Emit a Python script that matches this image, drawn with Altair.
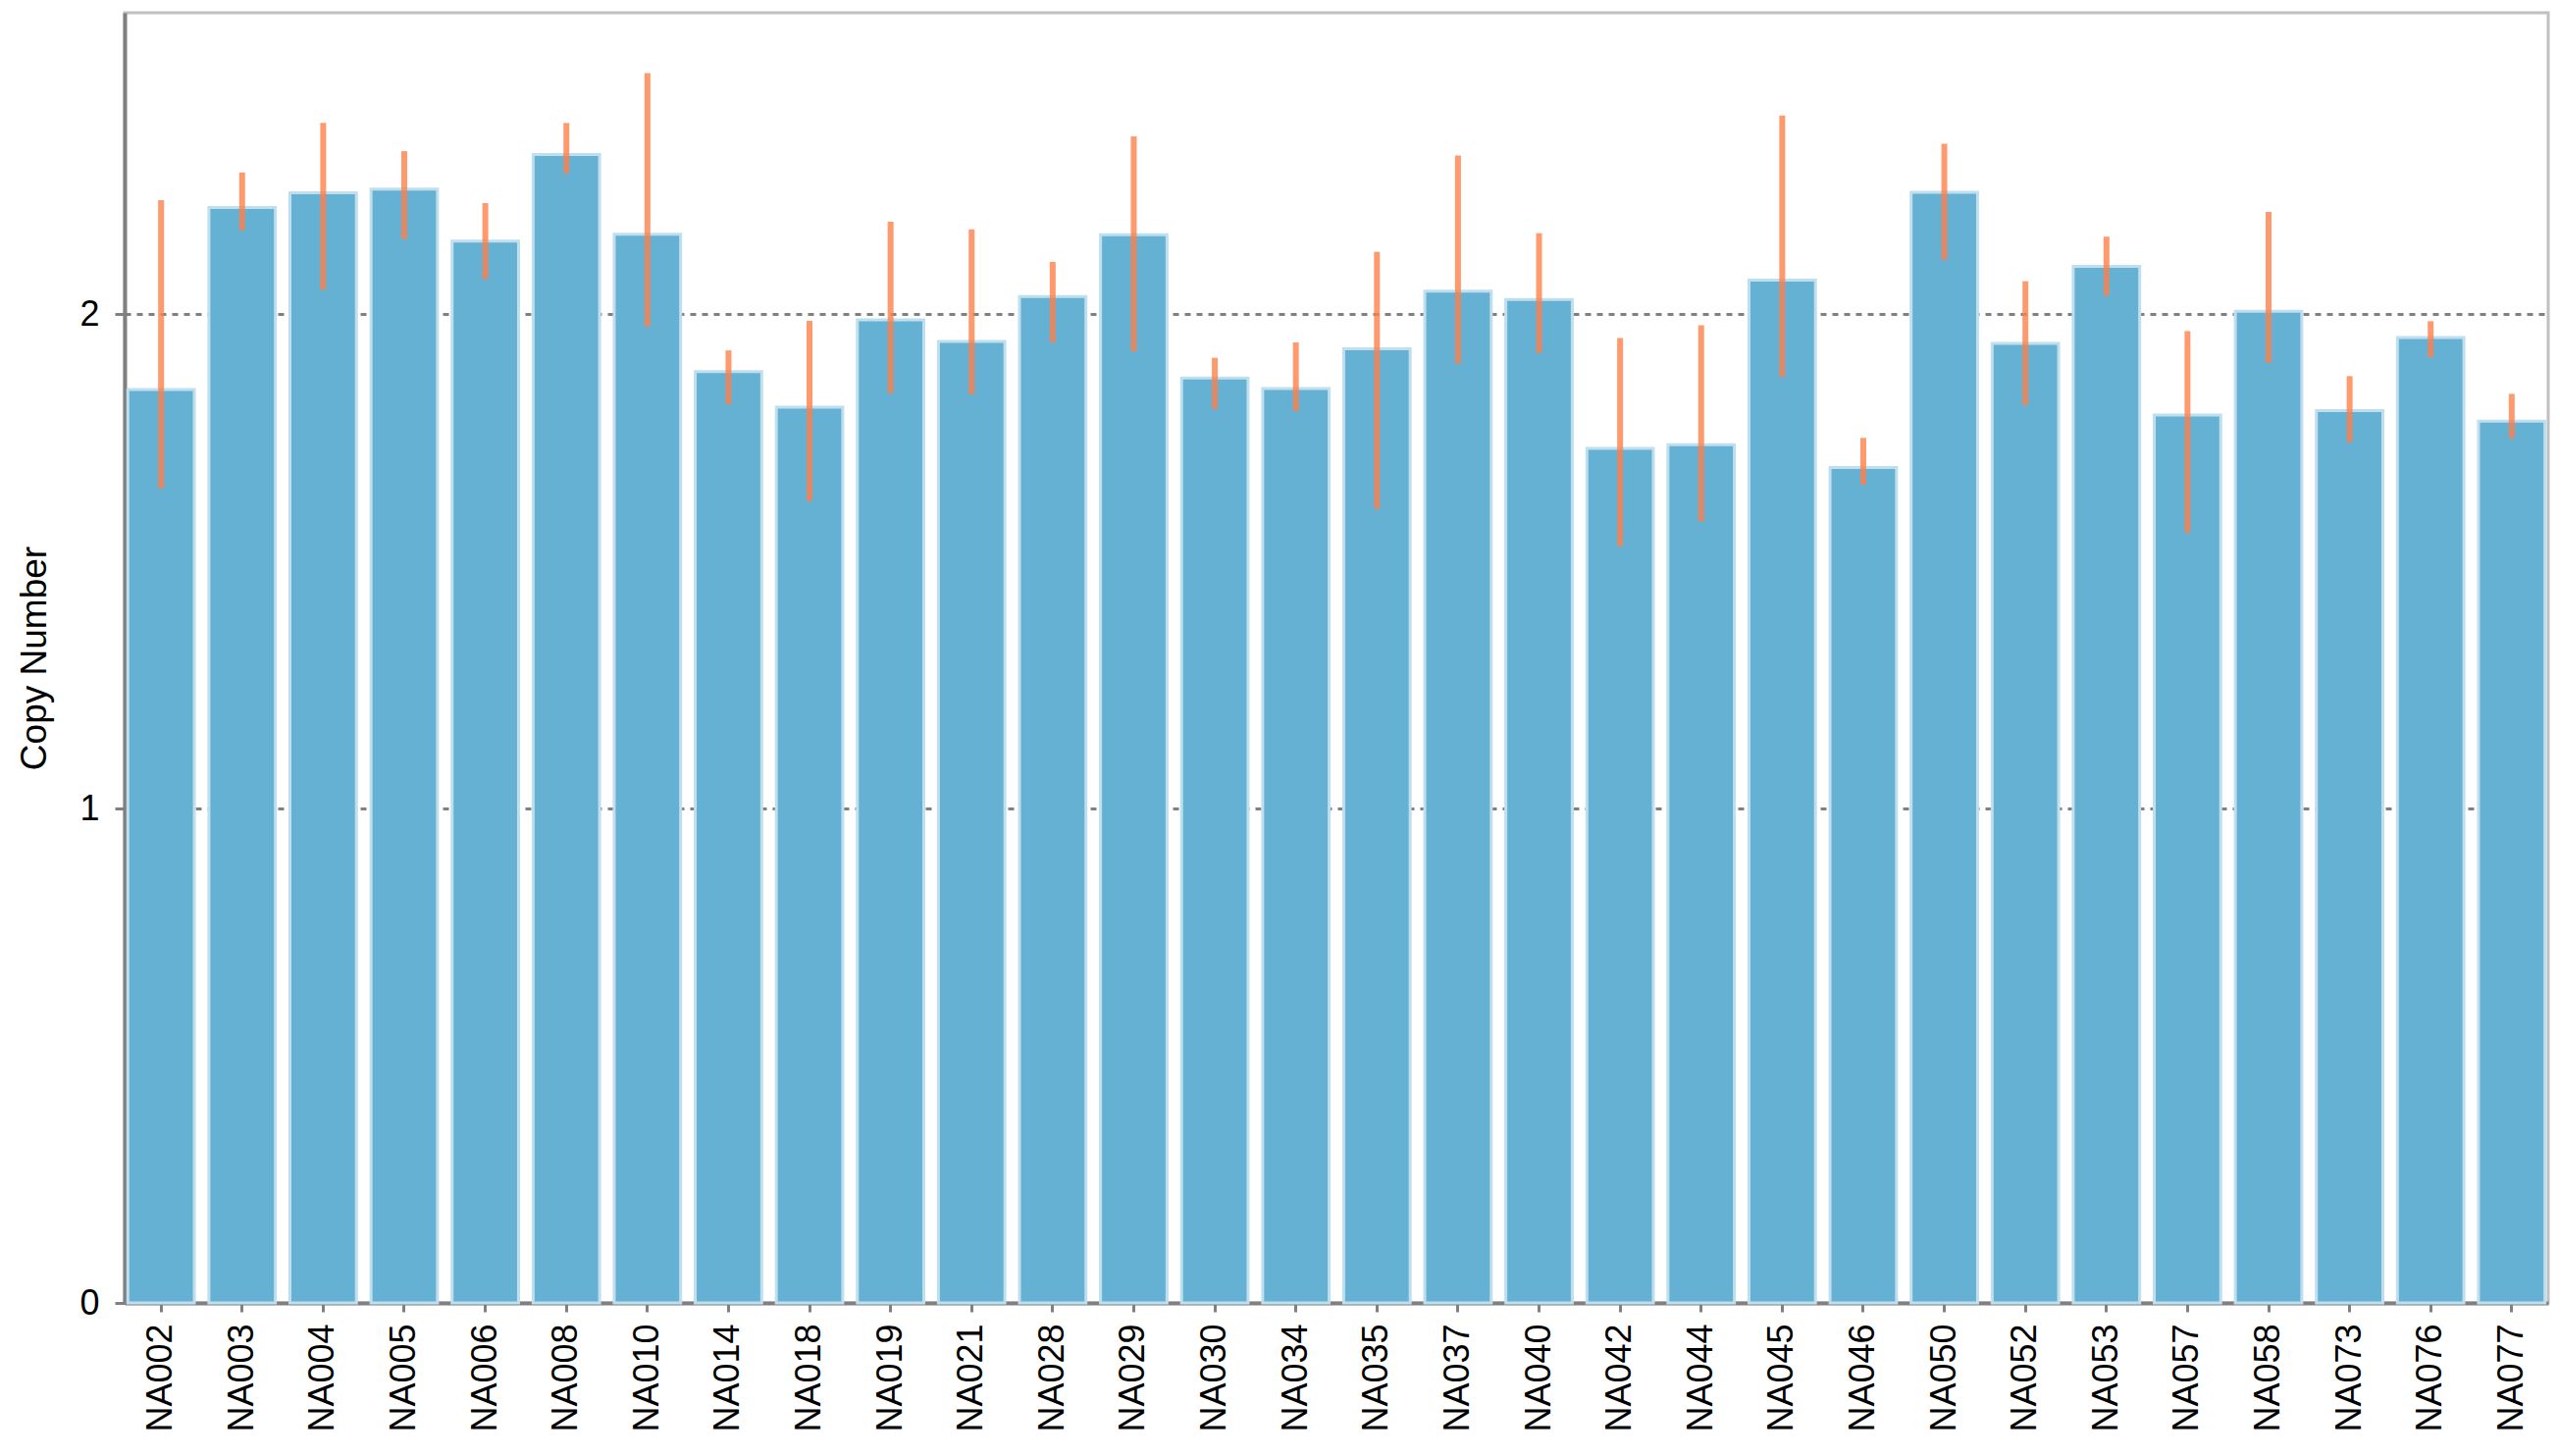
import altair as alt
import pandas as pd

samples = ["NA002", "NA003", "NA004", "NA005", "NA006", "NA008", "NA010", "NA014", "NA018", "NA019",
           "NA021", "NA028", "NA029", "NA030", "NA034", "NA035", "NA037", "NA040", "NA042", "NA044",
           "NA045", "NA046", "NA050", "NA052", "NA053", "NA057", "NA058", "NA073", "NA076", "NA077"]
copy_number = [1.848, 2.216, 2.246, 2.253, 2.148, 2.323, 2.162, 1.884, 1.812, 1.989,
               1.945, 2.036, 2.161, 1.871, 1.850, 1.930, 2.047, 2.030, 1.729, 1.736,
               2.069, 1.690, 2.247, 1.941, 2.097, 1.796, 2.006, 1.805, 1.953, 1.784]
err_high = [2.231, 2.287, 2.387, 2.330, 2.225, 2.387, 2.488, 1.927, 1.987, 2.187,
            2.172, 2.106, 2.360, 1.912, 1.943, 2.126, 2.321, 2.164, 1.952, 1.978,
            2.402, 1.750, 2.345, 2.067, 2.157, 1.966, 2.207, 1.875, 1.986, 1.839]
err_low = [1.648, 2.170, 2.050, 2.152, 2.071, 2.285, 1.975, 1.818, 1.622, 1.840,
           1.838, 1.943, 1.925, 1.808, 1.804, 1.606, 1.900, 1.922, 1.531, 1.581,
           1.873, 1.655, 2.110, 1.816, 2.038, 1.558, 1.902, 1.741, 1.913, 1.749]
y_ticks = [0, 1, 2]

df = pd.DataFrame({"sample": samples, "cn": copy_number, "hi": err_high, "lo": err_low})

FONT = "Liberation Sans"

x_enc = alt.X("sample:N", sort=samples, title=None,
              scale=alt.Scale(paddingInner=0.18, paddingOuter=0.04),
              axis=alt.Axis(labelAngle=270, labelFont=FONT, labelFontSize=36, labelColor="black",
                            labelPadding=12, tickSize=9, tickWidth=3, tickColor="#808080",
                            domainColor="#808080", domainWidth=4, grid=False, labelBound=False))

y_scale = alt.Scale(domain=[0, 2.61], nice=False, zero=True)

bars = alt.Chart(df).mark_bar(fill="#65b1d4", stroke="#bfdfee", strokeWidth=3).encode(
    x=x_enc,
    y=alt.Y("cn:Q", scale=y_scale, title="Copy Number",
            axis=alt.Axis(values=y_ticks, format="d", labelFont=FONT, labelFontSize=36,
                          labelColor="black", labelPadding=16, tickSize=10, tickWidth=3,
                          tickColor="#808080", domainColor="#808080", domainWidth=4,
                          grid=True, gridColor="#808080", gridDash=[6, 6], gridWidth=3,
                          titleFont=FONT, titleFontSize=37, titleFontWeight="normal",
                          titleColor="black", titlePadding=26)),
)

errs = alt.Chart(df).mark_rule(color="#ff7f4a", strokeWidth=6, opacity=0.8).encode(
    x=alt.X("sample:N", sort=samples),
    y=alt.Y("lo:Q", scale=y_scale),
    y2="hi:Q",
)

chart = alt.layer(bars, errs).properties(
    width=2470, height=1315,
    autosize=alt.AutoSizeParams(type="none"),
    padding={"left": 119, "top": 5, "right": 3, "bottom": 148},
    background="white",
).configure_view(stroke="#c0c0c0", strokeWidth=3)

chart.save("out.html", embed_options={"renderer": "svg", "actions": False})
